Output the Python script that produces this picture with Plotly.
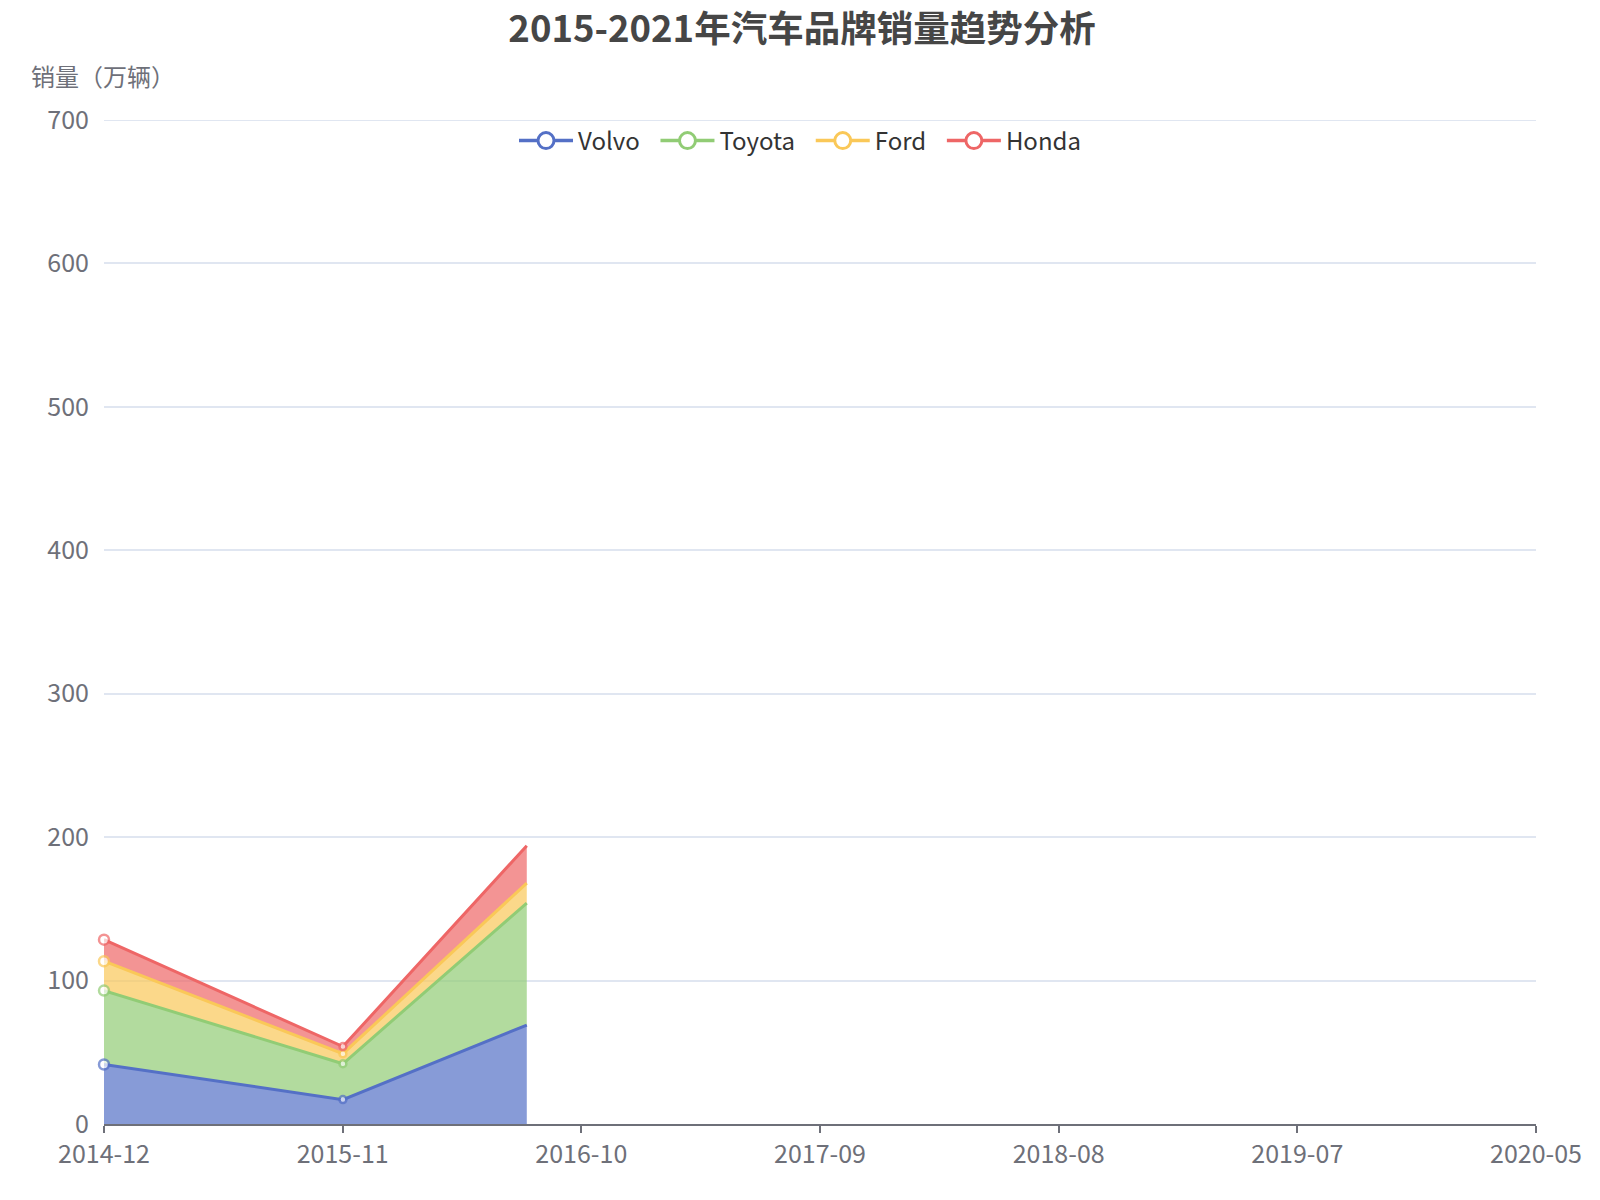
import pandas as pd
import plotly.graph_objects as go

# data (the chart was caught mid-animation,
# so the last point sits where the drawing stopped)
dates = ["2014-12-01", "2015-10-27", "2016-07-07"]
volvo = [41.5, 17, 69]
toyota = [51.5, 25, 85]
ford = [20.5, 7, 14]
honda = [15, 5, 26]

tick_labels = ["2014-12", "2015-11", "2016-10", "2017-09", "2018-08", "2019-07", "2020-05"]
x_start, x_end = "2014-12-01", "2020-05-01"
tick_vals = pd.date_range(x_start, x_end, periods=len(tick_labels))

series = [
    ("Volvo", volvo, "#5470c6", "rgba(84,112,198,0.7)"),
    ("Toyota", toyota, "#91cc75", "rgba(145,204,117,0.7)"),
    ("Ford", ford, "#fac858", "rgba(250,200,88,0.7)"),
    ("Honda", honda, "#ee6666", "rgba(238,102,102,0.7)"),
]

font_family = "Noto Sans CJK SC, Noto Sans, sans-serif"

# the page puts the figure 8px in from the top-left corner, margins allow for it
L, R, T, B = 96, 72, 112, 84
plot_h = 1200 - T - B
plot_w = 1600 - L - R

fig = go.Figure()
for name, vals, color, fillc in series:
    fig.add_trace(go.Scatter(
        x=dates, y=vals, name=name, mode="lines+markers",
        stackgroup="sales", fillcolor=fillc, showlegend=False, cliponaxis=False,
        line=dict(color=color, width=3),
        marker=dict(size=[10, 7, 0], color="white", line=dict(color=color, width=2.5)),
    ))

# legend entries drawn as line + empty circle, like the original
for i, (name, vals, color, fillc) in enumerate(series):
    label = name + ("\u00a0\u00a0" if i < len(series) - 1 else "")
    fig.add_trace(go.Scatter(
        x=[None], y=[None], name=label, mode="lines+markers",
        line=dict(color=color, width=3.5),
        marker=dict(size=16, color="white", line=dict(color=color, width=3)),
    ))

fig.update_layout(
    width=1600, height=1200,
    paper_bgcolor="white", plot_bgcolor="white",
    margin=dict(l=L, r=R, t=T, b=B),
    font=dict(family=font_family, color="#6e7079"),
    title=dict(text="<b>2015-2021年汽车品牌销量趋势分析</b>", x=794 / 1600, xanchor="center",
               y=1 - 21 / 1200, yanchor="middle",
               font=dict(size=36.5, color="#464646", family=font_family)),
    legend=dict(orientation="h", x=(792 - L) / plot_w, xanchor="center",
                y=(1200 - B - 133) / plot_h, yanchor="middle", traceorder="normal",
                font=dict(size=24, color="#333333"), bgcolor="rgba(0,0,0,0)",
                itemwidth=54),
    showlegend=True,
)

fig.update_xaxes(
    type="date", range=[x_start, x_end],
    tickvals=tick_vals, ticktext=tick_labels, tickangle=0,
    showgrid=False, zeroline=False,
    showline=True, linecolor="#6e7079", linewidth=2,
    ticks="outside", ticklen=7, tickwidth=2, tickcolor="#6e7079",
    tickfont=dict(size=25, color="#6e7079"),
)
fig.update_yaxes(
    range=[0, 700], dtick=100, showline=False, zeroline=False,
    gridcolor="#e0e6f1", gridwidth=2,
    tickfont=dict(size=25, color="#6e7079"), ticklabelstandoff=14,
)

# top gridline (plotly skips the one on the plot edge)
fig.add_shape(type="line", xref="paper", yref="y", x0=0, x1=1, y0=700, y1=700,
              line=dict(color="#e0e6f1", width=2), layer="below")

fig.add_annotation(
    text="销量（万辆）", xref="paper", yref="paper",
    x=(94.5 - L) / plot_w, y=(1200 - B - 67.5) / plot_h,
    xanchor="center", yanchor="middle", showarrow=False,
    font=dict(size=24, color="#6e7079"),
)

fig.write_html("out.html")
